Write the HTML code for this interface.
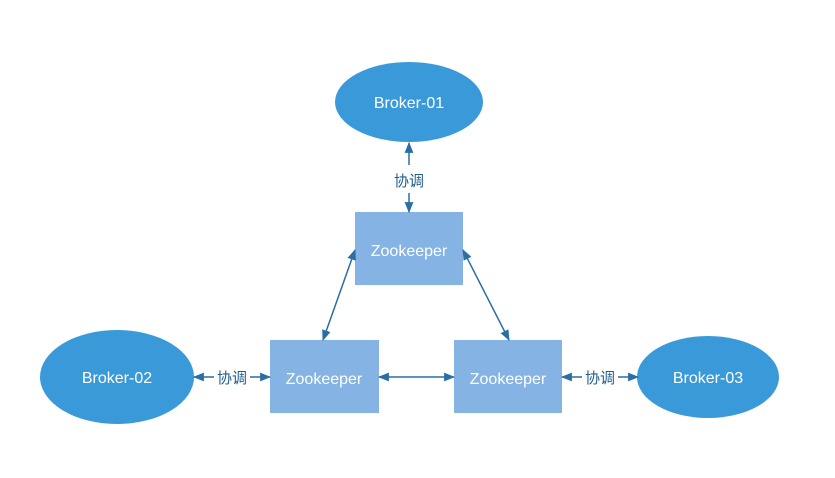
<!DOCTYPE html>
<html><head><meta charset="utf-8"><style>html,body{margin:0;padding:0;background:#fff;}</style></head>
<body>
<svg width="835" height="473" viewBox="0 0 835 473" xmlns="http://www.w3.org/2000/svg">
<defs>
<marker id="a" viewBox="0 0 10 10" refX="9" refY="5" markerWidth="7" markerHeight="7" orient="auto-start-reverse" markerUnits="userSpaceOnUse">
<path d="M0,0 L10,5 L0,10 z" fill="#2a6ea3"/>
</marker>
<marker id="b" viewBox="0 0 10 10" refX="9" refY="5" markerWidth="11" markerHeight="11" orient="auto-start-reverse" markerUnits="userSpaceOnUse">
<path d="M0,1 L10,5 L0,9 z" fill="#2a6ea3"/>
</marker>
</defs>
<g font-family="Liberation Sans, Noto Sans CJK SC, sans-serif">
<ellipse cx="409" cy="102" rx="74" ry="40" fill="#3a9ad9"/>
<text x="409" y="108" font-size="16" fill="#fff" text-anchor="middle">Broker-01</text>
<ellipse cx="117" cy="377" rx="77" ry="47" fill="#3a9ad9"/>
<text x="117" y="383" font-size="16" fill="#fff" text-anchor="middle">Broker-02</text>
<ellipse cx="708" cy="377" rx="71" ry="41" fill="#3a9ad9"/>
<text x="708" y="383" font-size="16" fill="#fff" text-anchor="middle">Broker-03</text>
<rect x="355" y="212" width="108" height="73" fill="#85b3e3"/>
<text x="409" y="256" font-size="16" fill="#fff" text-anchor="middle">Zookeeper</text>
<rect x="270" y="340" width="109" height="73" fill="#85b3e3"/>
<text x="324" y="384" font-size="16" fill="#fff" text-anchor="middle">Zookeeper</text>
<rect x="454" y="340" width="108" height="73" fill="#85b3e3"/>
<text x="508" y="384" font-size="16" fill="#fff" text-anchor="middle">Zookeeper</text>
<g stroke="#2a6ea3" stroke-width="1.5" fill="none">
<line x1="409" y1="143" x2="409" y2="165" marker-start="url(#b)"/>
<line x1="409" y1="193" x2="409" y2="212" marker-end="url(#b)"/>
<line x1="355" y1="250" x2="323" y2="340" marker-start="url(#b)" marker-end="url(#b)"/>
<line x1="463" y1="250" x2="509" y2="340" marker-start="url(#b)" marker-end="url(#b)"/>
<line x1="194" y1="377" x2="214" y2="377" marker-start="url(#b)"/>
<line x1="250" y1="377" x2="270" y2="377" marker-end="url(#b)"/>
<line x1="379" y1="377" x2="454" y2="377" marker-start="url(#b)" marker-end="url(#b)"/>
<line x1="562" y1="377" x2="582" y2="377" marker-start="url(#b)"/>
<line x1="618" y1="377" x2="638" y2="377" marker-end="url(#b)"/>
</g>
<text x="409" y="186" font-size="15" fill="#1f5f8f" text-anchor="middle">协调</text>
<text x="232" y="383" font-size="15" fill="#1f5f8f" text-anchor="middle">协调</text>
<text x="600" y="383" font-size="15" fill="#1f5f8f" text-anchor="middle">协调</text>
</g>
</svg>
</body></html>
